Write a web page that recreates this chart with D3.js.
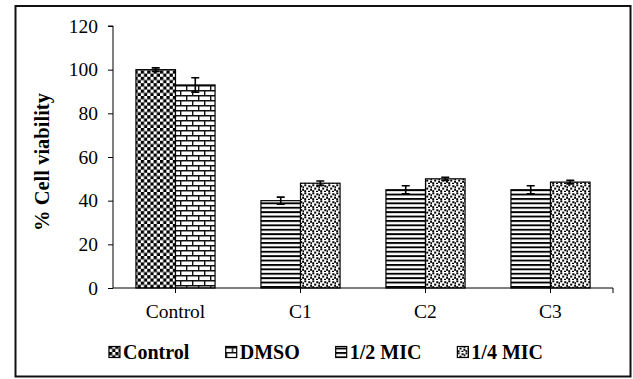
<!DOCTYPE html>
<html>
<head>
<meta charset="utf-8" />
<title>Cell viability</title>
<script src="https://d3js.org/d3.v7.min.js"></script>
<style>
  body { margin: 0; background: #fff; }
  text { font-family: "Liberation Serif", "Times New Roman", serif; fill: #000; }
</style>
</head>
<body>
<script>
// data
var categories = ["Control", "C1", "C2", "C3"];
var seriesNames = ["Control", "DMSO", "1/2 MIC", "1/4 MIC"];
var firstSeries = ["Control", "1/2 MIC", "1/2 MIC", "1/2 MIC"];
var secondSeries = ["DMSO", "1/4 MIC", "1/4 MIC", "1/4 MIC"];
var firstValues = [100, 40, 45, 45];
var firstErrors = [0.8, 1.6, 1.8, 1.8];
var secondValues = [93, 48, 50, 48.5];
var secondErrors = [3.3, 1.0, 0.7, 0.8];
var yTicks = [0, 20, 40, 60, 80, 100, 120];

var w = 633, h = 379;
var plotLeft = 113, plotRight = 613, plotTop = 26, plotBottom = 288;

var svg = d3.select("body").append("svg")
  .attr("width", w).attr("height", h);

// hatch patterns
var defs = svg.append("defs");
var patId = {"Control": "pCheck", "DMSO": "pBrick", "1/2 MIC": "pHoriz", "1/4 MIC": "pDots"};

var p1 = defs.append("pattern").attr("id", "pCheck").attr("patternUnits", "userSpaceOnUse")
  .attr("width", 6.4).attr("height", 6.4);
p1.append("rect").attr("width", 6.4).attr("height", 6.4).attr("fill", "#fff");
p1.append("rect").attr("width", 3.3).attr("height", 3.3).attr("fill", "#000");
p1.append("rect").attr("x", 3.2).attr("y", 3.2).attr("width", 3.3).attr("height", 3.3).attr("fill", "#000");

var p2 = defs.append("pattern").attr("id", "pBrick").attr("patternUnits", "userSpaceOnUse")
  .attr("width", 12).attr("height", 10);
p2.append("rect").attr("width", 12).attr("height", 10).attr("fill", "#fff");
p2.append("path").attr("d", "M0,0.7H12M0,5.7H12M0.7,0V5M6.7,5V10")
  .attr("stroke", "#111").attr("stroke-width", 1.4).attr("fill", "none");

var p3 = defs.append("pattern").attr("id", "pHoriz").attr("patternUnits", "userSpaceOnUse")
  .attr("width", 8).attr("height", 4.4);
p3.append("rect").attr("width", 8).attr("height", 4.4).attr("fill", "#fff");
p3.append("rect").attr("width", 8).attr("height", 1.9).attr("fill", "#000");

var p4 = defs.append("pattern").attr("id", "pDots").attr("patternUnits", "userSpaceOnUse")
  .attr("width", 8).attr("height", 8);
p4.append("rect").attr("width", 8).attr("height", 8).attr("fill", "#fff");
[[0.3, 0.3], [4.3, 1.2], [2.2, 3.6], [6.1, 4.8], [0.2, 6.2], [4, 6.8], [6.5, 2.3]].forEach(function (d) {
  p4.append("rect").attr("x", d[0]).attr("y", d[1]).attr("width", 2).attr("height", 2).attr("fill", "#000");
});

// outer frame
svg.append("rect").attr("x", 15.5).attr("y", 6).attr("width", 615).attr("height", 370.5)
  .attr("fill", "none").attr("stroke", "#111").attr("stroke-width", 2);

// scales
var x0 = d3.scaleBand().domain(categories).range([plotLeft, plotRight]);
var x1 = d3.scaleBand().domain([0, 1]).range([0, x0.bandwidth()]).paddingOuter(0.58);
var y = d3.scaleLinear().domain([0, 120]).range([plotBottom, plotTop]);

// y axis
var yAxis = svg.append("g").attr("transform", "translate(" + plotLeft + ",0)")
  .call(d3.axisLeft(y).tickValues(yTicks).tickSize(5).tickPadding(10));
yAxis.select(".domain").attr("stroke", "#000").attr("d", "M-5," + y(120) + "H0V" + y(0));
yAxis.selectAll("line").attr("stroke", "#000");
yAxis.selectAll("text").style("font-size", "19.5px")
  .style("font-family", "Liberation Serif, serif").attr("fill", "#000");

// bars
var bars = [];
categories.forEach(function (c, i) {
  bars.push({cat: c, slot: 0, series: firstSeries[i], v: firstValues[i], e: firstErrors[i]});
  bars.push({cat: c, slot: 1, series: secondSeries[i], v: secondValues[i], e: secondErrors[i]});
});

svg.selectAll("rect.bar").data(bars).enter().append("rect")
  .attr("class", "bar")
  .attr("x", function (d) { return x0(d.cat) + x1(d.slot); })
  .attr("y", function (d) { return y(d.v); })
  .attr("width", x1.bandwidth())
  .attr("height", function (d) { return y(0) - y(d.v); })
  .attr("fill", function (d) { return "url(#" + patId[d.series] + ")"; })
  .attr("stroke", "#000").attr("stroke-width", 1.2);

// error bars
var eb = svg.selectAll("g.err").data(bars).enter().append("g").attr("class", "err")
  .attr("transform", function (d) { return "translate(" + (x0(d.cat) + x1(d.slot) + x1.bandwidth() / 2) + ",0)"; });
eb.append("path")
  .attr("d", function (d) {
    var a = y(d.v + d.e), b = y(d.v - d.e);
    return "M-4," + a + "H4M0," + a + "V" + b + "M-4," + b + "H4";
  })
  .attr("stroke", "#000").attr("stroke-width", 1.6).attr("fill", "none");

// x axis
var xAxis = svg.append("g").attr("transform", "translate(0," + plotBottom + ")");
xAxis.append("line").attr("x1", plotLeft).attr("x2", plotRight).attr("stroke", "#000").attr("stroke-width", 1.2);
var xTickPos = categories.map(function (c) { return x0(c) + x0.bandwidth() / 2; }).concat([plotRight]);
xAxis.selectAll("line.tick").data(xTickPos).enter().append("line")
  .attr("class", "tick")
  .attr("x1", function (d) { return d; }).attr("x2", function (d) { return d; })
  .attr("y1", 0).attr("y2", 5).attr("stroke", "#000");
xAxis.selectAll("text").data(categories).enter().append("text")
  .attr("x", function (c) { return x0(c) + x0.bandwidth() / 2; })
  .attr("y", 30).attr("text-anchor", "middle").style("font-size", "19.5px")
  .text(function (c) { return c; });

// y title
svg.append("text").attr("transform", "translate(49,162) rotate(-90)")
  .attr("text-anchor", "middle").style("font-size", "20.5px").style("font-weight", "bold")
  .text("% Cell viability");

// legend
var legend = svg.append("g").attr("transform", "translate(0,352)");
var items = legend.selectAll("g").data(seriesNames).enter().append("g");
items.append("rect").attr("y", -5.5).attr("width", 11).attr("height", 11)
  .attr("fill", function (d) { return "url(#" + patId[d] + ")"; })
  .attr("stroke", "#000").attr("stroke-width", 1.2);
items.append("text").attr("x", 14).attr("y", 7)
  .style("font-size", "20px").style("font-weight", "bold")
  .text(function (d) { return d; });
var widths = [];
items.each(function () { widths.push(this.getBBox().width); });
var gap = 36;
var total = d3.sum(widths) + gap * (widths.length - 1);
var cx = 326 - total / 2;
items.attr("transform", function (d, i) {
  var xx = cx + d3.sum(widths.slice(0, i)) + gap * i;
  return "translate(" + xx + ",0)";
});
</script>
</body>
</html>
